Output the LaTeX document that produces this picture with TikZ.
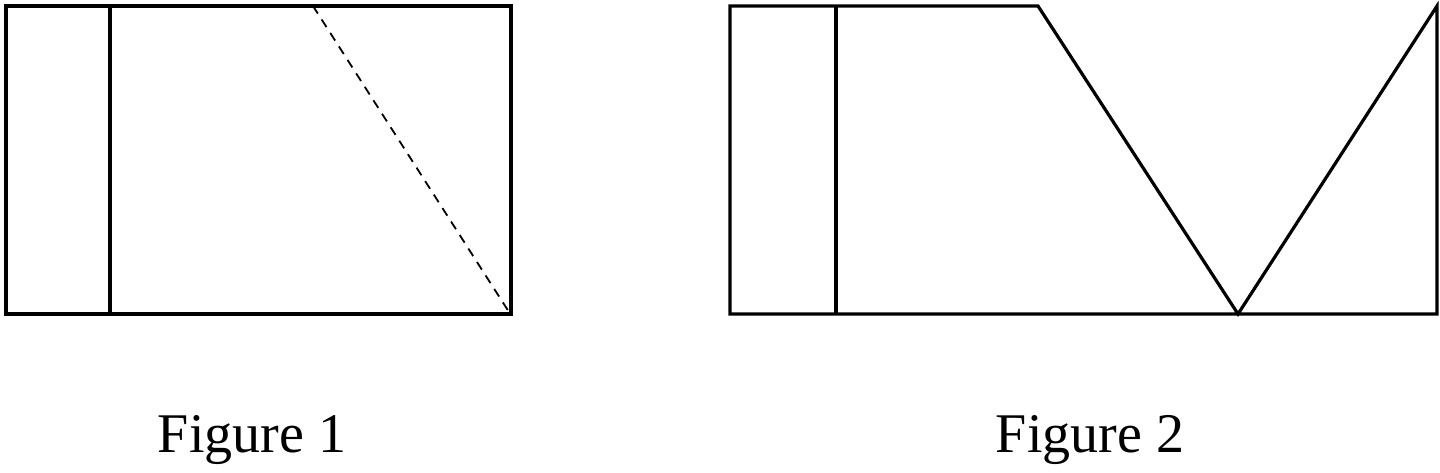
\documentclass[tikz,border=0pt]{standalone}
\usepackage{fontspec}
\setmainfont{Liberation Serif}

\begin{document}
\begin{tikzpicture}[x=1pt,y=-1pt,line width=3.2pt,line join=miter]
	\useasboundingbox (0,0) rectangle (1440,472);
	
	%ONE
	\draw (6,6) rectangle (511,314);
	\draw (110,6)--(110,314);
	\draw[line width=1.8pt,dash pattern=on 9pt off 7pt] (313,6)--(509,312); %fold
	
	%TWO
	\draw (730,6)--(730,314)--(1437,314)--(1437,6)--(1238,314)--(1038,6)--cycle;
	\draw (836,6)--(836,314);
	
	%LABELS
	\node[font=\fontsize{56}{60}\selectfont] (fig one) at (252,440) {Figure 1};
	\node[font=\fontsize{56}{60}\selectfont] (fig two) at (1090,440) {Figure 2};
	
	%\draw[help lines] (0,0) grid (1440,472);
\end{tikzpicture}
\end{document}
